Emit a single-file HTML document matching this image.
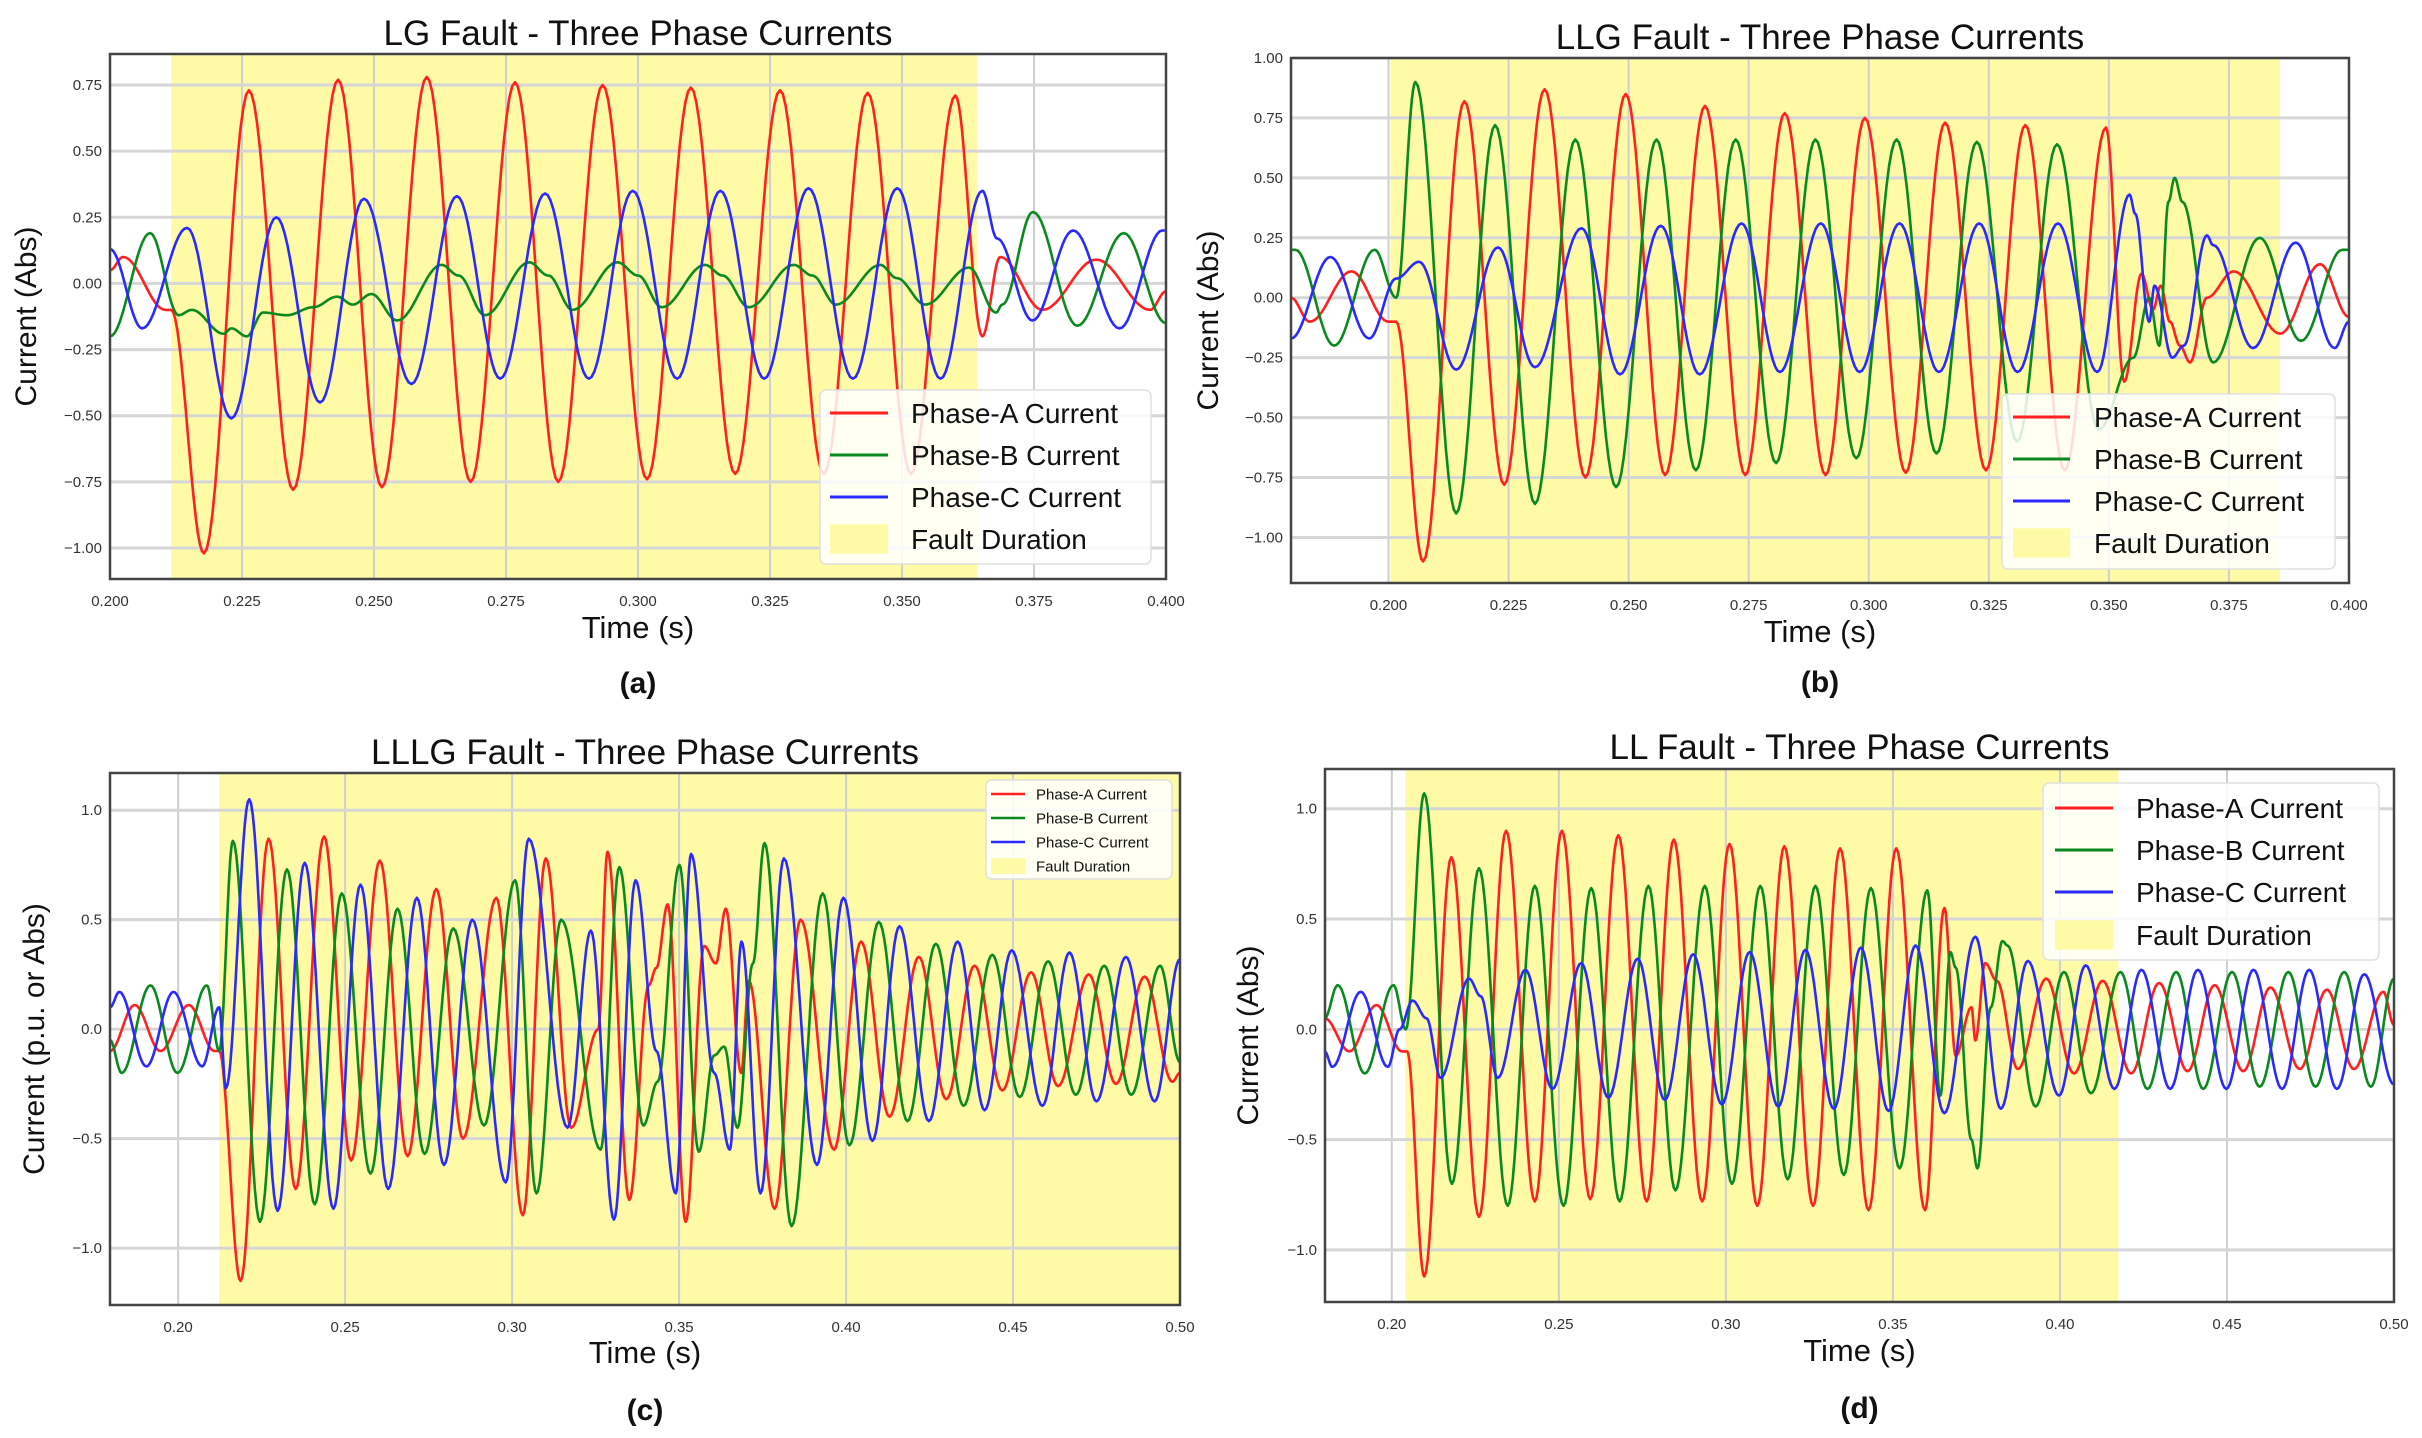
<!DOCTYPE html>
<html><head><meta charset="utf-8"><style>
html,body{margin:0;padding:0;background:#fff;}
svg{display:block;font-family:"Liberation Sans",sans-serif;}
</style></head><body>
<svg id="fig" width="2422" height="1438" viewBox="0 0 2422 1438"></svg>
<script>
// ---- Panel (a) LG fault: extrema ----
const aRedT=[0.2,0.2025,0.2105,0.2116,0.2178,0.2263,0.2347,0.2432,0.2515,0.26,0.2683,0.2767,0.2849,0.2933,0.3017,0.31,0.3184,0.3269,0.3352,0.3435,0.3517,0.3601,0.3652,0.3686,0.3766,0.3868,0.397,0.4];
const aRedV=[0.05,0.10,-0.10,-0.10,-1.02,0.73,-0.78,0.77,-0.77,0.78,-0.75,0.76,-0.75,0.75,-0.74,0.74,-0.72,0.73,-0.72,0.72,-0.72,0.71,-0.20,0.10,-0.10,0.09,-0.10,-0.03];
const aGrnT=[0.2,0.2076,0.213,0.2155,0.2215,0.223,0.2259,0.229,0.2335,0.2385,0.243,0.246,0.2495,0.2544,0.2628,0.266,0.271,0.2794,0.283,0.2876,0.2961,0.3,0.3045,0.3127,0.316,0.321,0.3295,0.333,0.3375,0.3459,0.349,0.3544,0.3627,0.3678,0.369,0.3748,0.3832,0.392,0.4];
const aGrnV=[-0.20,0.19,-0.12,-0.10,-0.19,-0.17,-0.20,-0.11,-0.12,-0.09,-0.05,-0.08,-0.04,-0.14,0.07,0.03,-0.12,0.08,0.03,-0.10,0.08,0.03,-0.09,0.07,0.03,-0.09,0.07,0.03,-0.08,0.07,0.02,-0.08,0.06,-0.11,-0.08,0.27,-0.16,0.19,-0.15];
const aBluT=[0.2,0.2061,0.2146,0.223,0.2315,0.2398,0.2481,0.2571,0.2657,0.2739,0.2824,0.2907,0.299,0.3074,0.3156,0.3239,0.3323,0.3407,0.3491,0.3573,0.3652,0.368,0.3747,0.3824,0.3912,0.3993,0.4];
const aBluV=[0.13,-0.17,0.21,-0.51,0.25,-0.45,0.32,-0.38,0.33,-0.36,0.34,-0.36,0.35,-0.36,0.35,-0.36,0.36,-0.36,0.36,-0.36,0.35,0.17,-0.14,0.20,-0.17,0.20,0.20];
// ---- Panel (b) LLG ----
const bRedT=[0.1797,0.1836,0.1923,0.2,0.2016,0.2072,0.2158,0.2241,0.2325,0.241,0.2494,0.2576,0.2659,0.2743,0.2825,0.291,0.2992,0.3077,0.3159,0.3244,0.3326,0.3408,0.3494,0.3532,0.3568,0.3592,0.3608,0.3627,0.3648,0.3669,0.3704,0.376,0.3857,0.394,0.4];
const bRedV=[0.0,-0.10,0.11,-0.10,-0.10,-1.10,0.82,-0.78,0.87,-0.75,0.85,-0.74,0.80,-0.74,0.77,-0.74,0.75,-0.73,0.73,-0.72,0.72,-0.72,0.71,-0.35,0.10,-0.05,0.05,-0.10,-0.20,-0.27,0.0,0.11,-0.15,0.14,-0.08];
const bGrnT=[0.1797,0.1806,0.1887,0.1971,0.2016,0.2056,0.2141,0.2222,0.2305,0.2389,0.2474,0.2558,0.264,0.2723,0.2807,0.2889,0.2974,0.3058,0.3141,0.3225,0.3309,0.3392,0.3479,0.3551,0.3584,0.3605,0.3624,0.3637,0.3653,0.3717,0.3814,0.39,0.3986,0.4];
const bGrnV=[0.20,0.20,-0.20,0.20,0.0,0.90,-0.90,0.72,-0.86,0.66,-0.79,0.66,-0.72,0.66,-0.69,0.66,-0.67,0.66,-0.65,0.65,-0.60,0.64,-0.55,-0.25,0.0,-0.20,0.40,0.50,0.40,-0.27,0.25,-0.18,0.20,0.20];
const bBluT=[0.1797,0.1879,0.196,0.2016,0.2064,0.2141,0.2228,0.2305,0.2402,0.2482,0.2567,0.2648,0.2735,0.2815,0.29,0.2981,0.3064,0.3146,0.323,0.331,0.3394,0.3476,0.3543,0.3555,0.3584,0.3595,0.3632,0.3656,0.3704,0.3717,0.38,0.3889,0.397,0.4];
const bBluV=[-0.17,0.17,-0.17,0.08,0.15,-0.30,0.21,-0.29,0.29,-0.32,0.30,-0.32,0.31,-0.31,0.31,-0.31,0.31,-0.31,0.31,-0.31,0.31,-0.31,0.43,0.35,-0.10,0.05,-0.25,-0.20,0.26,0.22,-0.21,0.23,-0.21,-0.10];
// ---- Panel (c) LLLG ----
const cRedT=[0.1796,0.187,0.1947,0.2032,0.2109,0.2123,0.2187,0.2271,0.2352,0.2437,0.2518,0.2604,0.2687,0.2773,0.2853,0.2953,0.3032,0.3101,0.3177,0.3258,0.3286,0.3351,0.3409,0.3432,0.3466,0.352,0.3575,0.361,0.364,0.3686,0.3709,0.3786,0.3864,0.3964,0.4045,0.413,0.4218,0.43,0.4385,0.4468,0.4554,0.4635,0.4727,0.4808,0.4894,0.4977,0.5];
const cRedV=[-0.10,0.11,-0.10,0.11,-0.10,-0.10,-1.15,0.87,-0.73,0.88,-0.60,0.77,-0.58,0.64,-0.50,0.60,-0.85,0.78,-0.45,0.0,0.81,-0.78,0.20,0.28,0.57,-0.88,0.38,0.30,0.55,-0.20,0.22,-0.82,0.50,-0.55,0.40,-0.40,0.33,-0.32,0.29,-0.28,0.26,-0.26,0.25,-0.25,0.24,-0.24,-0.20];
const cGrnT=[0.1796,0.1831,0.1917,0.1998,0.2086,0.2123,0.2164,0.2245,0.2326,0.2409,0.249,0.2576,0.2657,0.2738,0.2824,0.2916,0.3009,0.3073,0.3147,0.3265,0.3321,0.3393,0.3436,0.3501,0.3559,0.3605,0.3635,0.3675,0.3721,0.3756,0.3837,0.393,0.401,0.4098,0.4184,0.4269,0.4352,0.4438,0.452,0.4605,0.4688,0.4773,0.4854,0.494,0.5];
const cGrnV=[-0.05,-0.20,0.20,-0.20,0.20,-0.10,0.86,-0.88,0.73,-0.80,0.62,-0.66,0.55,-0.57,0.46,-0.44,0.68,-0.75,0.50,-0.55,0.74,-0.44,-0.24,0.75,-0.56,-0.12,-0.08,-0.45,0.30,0.85,-0.90,0.62,-0.53,0.49,-0.42,0.39,-0.35,0.34,-0.31,0.31,-0.30,0.29,-0.30,0.29,-0.15];
const cBluT=[0.1796,0.1824,0.1905,0.1986,0.2072,0.2123,0.2143,0.2213,0.2298,0.2379,0.2465,0.2546,0.2629,0.2715,0.2796,0.2881,0.2981,0.305,0.3166,0.3236,0.3305,0.337,0.3432,0.349,0.3536,0.3605,0.3652,0.3687,0.3744,0.3814,0.3913,0.3992,0.4079,0.416,0.4248,0.4334,0.4415,0.4496,0.4588,0.4669,0.475,0.4838,0.4924,0.5];
const cBluV=[0.10,0.17,-0.17,0.17,-0.17,0.10,-0.27,1.05,-0.83,0.76,-0.82,0.66,-0.73,0.60,-0.62,0.50,-0.70,0.87,-0.45,0.45,-0.87,0.68,-0.10,-0.75,0.80,-0.20,-0.55,0.40,-0.75,0.78,-0.62,0.60,-0.51,0.47,-0.42,0.40,-0.37,0.36,-0.35,0.35,-0.33,0.33,-0.33,0.32];
// ---- Panel (d) LL ----
const dRedT=[0.1799,0.1873,0.1954,0.203,0.2046,0.2097,0.2178,0.2261,0.2342,0.2428,0.2509,0.2594,0.2678,0.2763,0.2844,0.2929,0.3011,0.3094,0.3175,0.3261,0.3342,0.3427,0.351,0.3596,0.3654,0.3688,0.3735,0.3747,0.3776,0.3811,0.3874,0.3959,0.4042,0.4128,0.4213,0.4297,0.4382,0.4463,0.4549,0.463,0.4718,0.4799,0.488,0.4968,0.5];
const dRedV=[0.05,-0.10,0.11,-0.10,-0.10,-1.12,0.78,-0.85,0.90,-0.78,0.90,-0.77,0.88,-0.78,0.86,-0.78,0.84,-0.80,0.83,-0.80,0.82,-0.82,0.82,-0.82,0.55,-0.12,0.10,-0.05,0.30,0.22,-0.18,0.23,-0.20,0.22,-0.20,0.21,-0.19,0.20,-0.19,0.19,-0.18,0.18,-0.18,0.17,0.02];
const dGrnT=[0.1799,0.1838,0.1919,0.2005,0.2042,0.2097,0.218,0.2261,0.2347,0.2428,0.2514,0.2597,0.2682,0.2768,0.2849,0.2937,0.3018,0.3103,0.3185,0.3268,0.3353,0.3434,0.352,0.3603,0.3642,0.3672,0.3688,0.3735,0.3753,0.3793,0.3828,0.3843,0.3927,0.4012,0.4093,0.4181,0.4262,0.4348,0.4429,0.4515,0.4598,0.4684,0.4765,0.4851,0.4931,0.5];
const dGrnV=[0.05,0.20,-0.20,0.20,0.0,1.07,-0.70,0.73,-0.80,0.65,-0.80,0.64,-0.78,0.65,-0.73,0.65,-0.70,0.65,-0.68,0.65,-0.66,0.64,-0.63,0.63,-0.30,0.35,0.28,-0.50,-0.63,0.10,0.40,0.38,-0.35,0.26,-0.29,0.26,-0.27,0.26,-0.27,0.26,-0.26,0.26,-0.26,0.26,-0.26,0.23];
const dBluT=[0.1799,0.1822,0.1907,0.1988,0.2023,0.2062,0.2104,0.2146,0.2231,0.2266,0.2317,0.24,0.2481,0.2567,0.2648,0.2736,0.2817,0.2902,0.2988,0.3071,0.3157,0.3238,0.3323,0.3404,0.3487,0.3568,0.3654,0.3747,0.3823,0.3904,0.3997,0.4077,0.4163,0.4244,0.433,0.4413,0.4498,0.4579,0.4665,0.4746,0.4829,0.4911,0.5];
const dBluV=[-0.10,-0.17,0.17,-0.17,0.0,0.13,0.05,-0.22,0.23,0.15,-0.22,0.27,-0.27,0.30,-0.31,0.32,-0.32,0.34,-0.34,0.35,-0.35,0.36,-0.36,0.37,-0.37,0.38,-0.38,0.42,-0.36,0.31,-0.30,0.29,-0.27,0.27,-0.27,0.27,-0.27,0.27,-0.27,0.27,-0.27,0.25,-0.25];
// tick labels
const xTicksAB=[0.200,0.225,0.250,0.275,0.300,0.325,0.350,0.375,0.400];
const xTicksCD=[0.20,0.25,0.30,0.35,0.40,0.45,0.50];
const yTicksA=[-1.00,-0.75,-0.50,-0.25,0.00,0.25,0.50,0.75];
const yTicksB=[-1.00,-0.75,-0.50,-0.25,0.00,0.25,0.50,0.75,1.00];
const yTicksCD=[-1.0,-0.5,0.0,0.5,1.0];
const faultA=[0.2116,0.3642], faultB=[0.2004,0.3856], faultC=[0.2123,0.5], faultD=[0.204,0.4175];
const legendLabels=["Phase-A Current","Phase-B Current","Phase-C Current","Fault Duration"];

const NS="http://www.w3.org/2000/svg";
const svg=document.getElementById('fig');
function mk(tag,attrs,parent){const e=document.createElementNS(NS,tag);for(const k in attrs)e.setAttribute(k,attrs[k]);(parent||svg).appendChild(e);return e;}
const COL={r:"#ff2020",g:"#0a8a1e",b:"#2a2aff"};

const panels=[
 {id:"a",title:"LG Fault - Three Phase Currents",L:110,R:1166,T:54,B:579,x0:0.2,x1:0.4,y0:-1.117,y1:0.867,xt:xTicksAB,xd:3,yt:yTicksA,yd:2,fault:faultA,
  series:[[aRedT,aRedV,COL.r],[aGrnT,aGrnV,COL.g],[aBluT,aBluV,COL.b]],ylabel:"Current (Abs)",ylx:28,
  titleY:45,timeY:638,tagY:693,lg:{x:820,y:390,w:331,h:174,rows:[413,455,497,539],l0:830,l1:888,tx:911,fs:28}},
 {id:"b",title:"LLG Fault - Three Phase Currents",L:1291,R:2349,T:58,B:583,x0:0.1797,x1:0.4,y0:-1.19,y1:1.0,xt:xTicksAB,xd:3,yt:yTicksB,yd:2,fault:faultB,
  series:[[bRedT,bRedV,COL.r],[bGrnT,bGrnV,COL.g],[bBluT,bBluV,COL.b]],ylabel:"Current (Abs)",ylx:1210,
  titleY:49,timeY:642,tagY:692,lg:{x:2002,y:394,w:333,h:175,rows:[417,459,501,543],l0:2013,l1:2070,tx:2094,fs:28}},
 {id:"c",title:"LLLG Fault - Three Phase Currents",L:110,R:1180,T:773,B:1305,x0:0.1796,x1:0.5,y0:-1.26,y1:1.17,xt:xTicksCD,xd:2,yt:yTicksCD,yd:1,fault:faultC,
  series:[[cRedT,cRedV,COL.r],[cGrnT,cGrnV,COL.g],[cBluT,cBluV,COL.b]],ylabel:"Current (p.u. or Abs)",ylx:36,
  titleY:764,timeY:1363,tagY:1420,lg:{x:986,y:780,w:186,h:99,rows:[794,818,842,866],l0:991,l1:1025,tx:1036,fs:15}},
 {id:"d",title:"LL Fault - Three Phase Currents",L:1325,R:2394,T:769,B:1302,x0:0.18,x1:0.5,y0:-1.236,y1:1.18,xt:xTicksCD,xd:2,yt:yTicksCD,yd:1,fault:faultD,
  series:[[dRedT,dRedV,COL.r],[dGrnT,dGrnV,COL.g],[dBluT,dBluV,COL.b]],ylabel:"Current (Abs)",ylx:1250,
  titleY:759,timeY:1361,tagY:1418,lg:{x:2043,y:783,w:336,h:177,rows:[808,850,892,935],l0:2055,l1:2113,tx:2136,fs:28}}
];
const seriesNames=["phase-a-line","phase-b-line","phase-c-line"];

panels.forEach(p=>{
  const g=mk('g',{});
  
  
  const sx=t=>p.L+(t-p.x0)/(p.x1-p.x0)*(p.R-p.L);
  const sy=v=>p.B-(v-p.y0)/(p.y1-p.y0)*(p.B-p.T);
  const cx=(p.L+p.R)/2, cy=(p.T+p.B)/2;
  const clip=mk('clipPath',{id:'clip'+p.id},g);
  mk('rect',{x:p.L,y:p.T,width:p.R-p.L,height:p.B-p.T},clip);
  // fault span
  const fx0=Math.max(p.L,sx(p.fault[0])), fx1=Math.min(p.R,sx(p.fault[1]));
  const fr=mk('rect',{x:fx0,y:p.T,width:fx1-fx0,height:p.B-p.T,fill:"#fffaa6"},g);
  
  
  // grid
  p.xt.forEach(t=>{const x=sx(t);
    const l=mk('line',{x1:x,x2:x,y1:p.T,y2:p.B,stroke:"#cfcfcf","stroke-width":2},g);
    
    
    const tx=mk('text',{x:x,y:p.B+27,"font-size":15,"text-anchor":"middle",fill:"#333"},g);
    tx.textContent=t.toFixed(p.xd);
    
    
  });
  p.yt.forEach(v=>{const y=sy(v);
    const l=mk('line',{x1:p.L,x2:p.R,y1:y,y2:y,stroke:"#d6d6d6","stroke-width":3},g);
    
    
    const tx=mk('text',{x:p.L-8,y:y+5,"font-size":15,"text-anchor":"end",fill:"#333"},g);
    tx.textContent=(v<0?"\u2212":"")+Math.abs(v).toFixed(p.yd);
    
    
  });
  // series
  p.series.forEach((s,si)=>{
    const T=s[0],V=s[1],n=Math.min(T.length,V.length);
    let d="";
    for(let i=0;i<n-1;i++){
      const steps=16;
      for(let k=(i===0?0:1);k<=steps;k++){
        const f=k/steps, t=T[i]+(T[i+1]-T[i])*f, v=V[i]+(V[i+1]-V[i])*(1-Math.cos(Math.PI*f))/2;
        d+=(d?"L":"M")+sx(t).toFixed(1)+" "+sy(v).toFixed(1);
      }
    }
    const path=mk('path',{d:d,fill:"none",stroke:s[2],"stroke-width":2.6,"stroke-linejoin":"round","clip-path":"url(#clip"+p.id+")"},g);
    
    
  });
  // frame
  const fr2=mk('rect',{x:p.L,y:p.T,width:p.R-p.L,height:p.B-p.T,fill:"none",stroke:"#444","stroke-width":2.5},g);
  
  
  // title & labels
  const ti=mk('text',{x:cx,y:p.titleY,"font-size":35,"text-anchor":"middle",fill:"#111"},g);
  ti.textContent=p.title;
  
  
  const xl=mk('text',{x:cx,y:p.timeY,"font-size":31,"text-anchor":"middle",fill:"#111"},g);
  xl.textContent="Time (s)";
  
  
  const yl=mk('text',{x:p.ylx,y:cy,"font-size":30,"text-anchor":"middle",fill:"#111",transform:"rotate(-90 "+p.ylx+" "+cy+")","dominant-baseline":"middle"},g);
  yl.textContent=p.ylabel;
  
  
  const tg=mk('text',{x:cx,y:p.tagY,"font-size":30,"font-weight":"bold","text-anchor":"middle",fill:"#111"},g);
  tg.textContent="("+p.id+")";
  
  
  // legend
  const lg=p.lg;
  const lgG=mk('g',{},g);
  
  
  mk('rect',{x:lg.x,y:lg.y,width:lg.w,height:lg.h,rx:6,fill:"#fff","fill-opacity":0.85,stroke:"#e0e0e0","stroke-width":1.5},lgG);
  const cols=[COL.r,COL.g,COL.b];
  legendLabels.forEach((lab,i)=>{
    const y=lg.rows[i];
    const eg=mk('g',{},lgG);
    
    
    if(i<3){mk('line',{x1:lg.l0,x2:lg.l1,y1:y,y2:y,stroke:cols[i],"stroke-width":lg.fs>20?3:2.5},eg);}
    else{const hh=lg.fs*1.05;mk('rect',{x:lg.l0,y:y-hh/2,width:lg.l1-lg.l0,height:hh,fill:"#fffaa6"},eg);}
    const t=mk('text',{x:lg.tx,y:y+lg.fs*0.36,"font-size":lg.fs,fill:"#111"},eg);
    t.textContent=lab;
  });
});
</script>
</body></html>
